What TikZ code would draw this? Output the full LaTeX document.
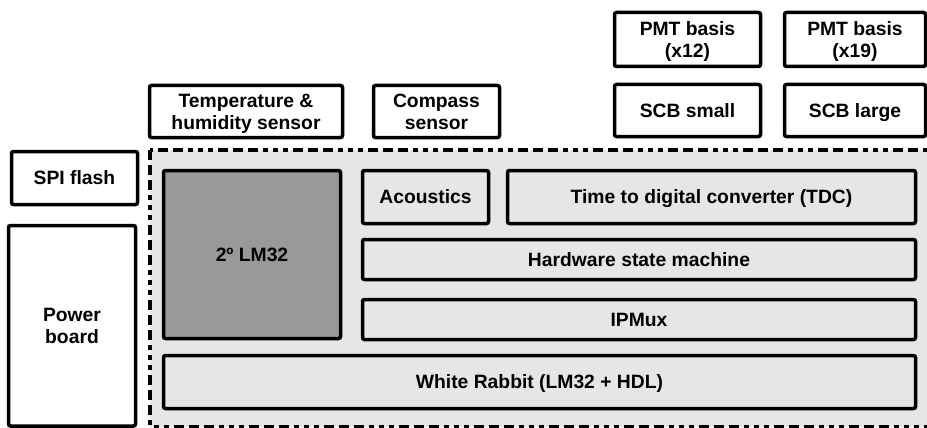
\documentclass[tikz,border=0pt]{standalone}
\usepackage{fontspec}
\setmainfont{Liberation Sans}
\definecolor{panelgray}{HTML}{E6E6E6}
\definecolor{cpugray}{HTML}{999999}
\begin{document}
\begin{tikzpicture}[x=1pt,y=-1pt,
  box/.style={draw=black, line width=3.5pt, rounded corners=2pt, fill=white,
    inner sep=0pt, align=center, text height=13.8pt, text depth=0pt,
    font=\fontsize{19.3}{21.5}\selectfont\bfseries},
  twoline/.style={text height=35.3pt, text depth=0pt},
  inbox/.style={box, fill=panelgray},
  cpubox/.style={box, fill=cpugray},
  panel/.style={draw=black, line width=4pt, fill=panelgray,
    dash pattern=on 10pt off 5pt on 10pt off 5pt on 10pt off 5pt on 5pt off 5pt on 5pt off 5pt on 5pt off 5pt}
]
\useasboundingbox (0,0) rectangle (927,428);
% dashed panel
\draw[panel] (150,150) rectangle (940,426.5);
% outside boxes
\node[box, minimum width=126pt, minimum height=53pt] (spi) at (74.5,178) {SPI flash};
\node[box, twoline, minimum width=127pt, minimum height=200.5pt] (power) at (72,325.75) {Power\\board};
\node[box, twoline, minimum width=193pt, minimum height=52pt] (temp) at (246,111.5) {Temperature \&\\humidity sensor};
\node[box, twoline, minimum width=126pt, minimum height=52pt] (compass) at (436.5,111.5) {Compass\\sensor};
\node[box, minimum width=146pt, minimum height=52pt] (scbs) at (687.5,110.5) {SCB small};
\node[box, minimum width=141pt, minimum height=52pt] (scbl) at (855,110.5) {SCB large};
\node[box, twoline, minimum width=146pt, minimum height=54pt] (pmt12) at (687.5,39.5) {PMT basis\\(x12)};
\node[box, twoline, minimum width=141pt, minimum height=54pt] (pmt19) at (855,39.5) {PMT basis\\(x19)};
% inside boxes
\node[cpubox, minimum width=177pt, minimum height=168pt] (lm) at (252,254.5) {2º LM32};
\node[inbox, minimum width=126pt, minimum height=53pt] (acou) at (425.5,197) {Acoustics};
\node[inbox, minimum width=408pt, minimum height=53pt] (tdc) at (711.5,197) {Time to digital converter (TDC)};
\node[inbox, minimum width=553pt, minimum height=40pt] (hsm) at (639,259.5) {Hardware state machine};
\node[inbox, minimum width=553pt, minimum height=40pt] (ipm) at (639,319.5) {IPMux};
\node[inbox, minimum width=752pt, minimum height=53pt] (wr) at (539.5,382) {White Rabbit (LM32 + HDL)};
\end{tikzpicture}
\end{document}
